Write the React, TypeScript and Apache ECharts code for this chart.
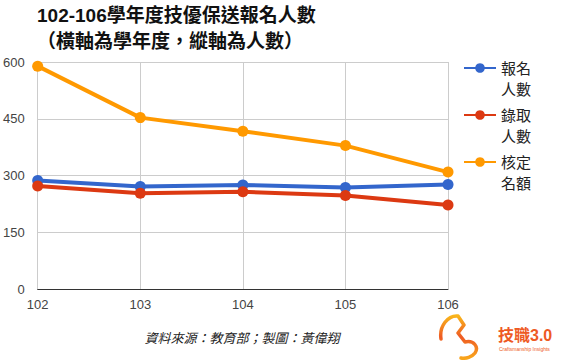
import React, { useEffect, useRef } from "react";
import * as echarts from "echarts";

const years = ["102", "103", "104", "105", "106"];
const applicants = [287, 271, 275, 268, 276];
const admitted = [272, 253, 257, 247, 222];
const quota = [589, 453, 417, 379, 309];
const seriesNames = ["報名人數", "錄取人數", "核定名額"];
const legendLabels = ["報名\n人數", "錄取\n人數", "核定\n名額"];
const colors = ["#3366cc", "#dc3912", "#ff9900"];
const titleLines = ["102-106學年度技優保送報名人數", "（橫軸為學年度，縱軸為人數）"];
const sourceText = "資料來源：教育部；製圖：黃偉翔";

const swirlD =
  "M 3 26 C 1 13, 10 2, 20 3 L 26 12 L 20 20 L 27 29 C 36 27, 41 34, 37 40 C 34 44, 28 46, 23 45";

let registered = false;
function ensureShape() {
  if (registered) return;
  echarts.graphic.registerShape("logo", echarts.graphic.extendPath(swirlD, {}) as any);
  registered = true;
}

export default function App() {
  const ref = useRef<HTMLDivElement>(null);
  useEffect(() => {
    if (!ref.current) return;
    ensureShape();
    const chart = echarts.init(ref.current, undefined, { renderer: "svg" });
    const data = [applicants, admitted, quota];
    const legendTops = [36.5, 83.5, 130.5];
    chart.setOption({
      animation: false,
      backgroundColor: "#fff",
      textStyle: { fontFamily: "Arial, 'Liberation Sans', 'Noto Sans CJK TC', sans-serif" },
      grid: { left: 37, right: 115, top: 62, bottom: 71 },
      xAxis: {
        type: "category",
        data: years,
        boundaryGap: false,
        axisLine: { show: true, lineStyle: { color: "#333", width: 1 } },
        axisTick: { show: false },
        axisLabel: { color: "#444", fontSize: 13, margin: 9 },
        splitLine: { show: true, lineStyle: { color: "#cccccc", width: 1 } },
      },
      yAxis: {
        type: "value",
        min: 0,
        max: 600,
        interval: 150,
        axisLine: { show: false },
        axisTick: { show: false },
        axisLabel: { color: "#444", fontSize: 13, margin: 13 },
        splitLine: { show: true, lineStyle: { color: "#cccccc", width: 1 } },
      },
      legend: seriesNames.map((n, i) => ({
        data: [n],
        orient: "vertical",
        left: 463,
        top: legendTops[i],
        padding: 0,
        itemWidth: 32,
        itemHeight: 12,
        selectedMode: false,
        formatter: () => "\n" + legendLabels[i],
        textStyle: { fontSize: 15, lineHeight: 21, color: "#222" },
      })),
      series: seriesNames.map((n, i) => ({
        name: n,
        type: "line",
        data: data[i],
        symbol: "circle",
        symbolSize: 11,
        color: colors[i],
        lineStyle: { width: 4, color: colors[i] },
        itemStyle: { color: colors[i] },
      })),
      graphic: [
        {
          type: "text",
          left: 37,
          top: 2,
          style: {
            text: titleLines.join("\n"),
            font: "bold 19px Arial, 'Liberation Sans', 'Noto Sans CJK TC', sans-serif",
            lineHeight: 26,
            fill: "#111",
          },
        },
        {
          type: "text",
          x: 242,
          y: 338,
          style: {
            text: sourceText,
            font: "italic 13px Arial, 'Noto Sans CJK TC', sans-serif",
            fill: "#222",
            align: "center",
            verticalAlign: "middle",
          },
        },
        {
          type: "logo",
          x: 438,
          y: 313,
          style: {
            fill: null,
            stroke: new echarts.graphic.LinearGradient(0, 0, 0, 1, [
              { offset: 0, color: "#f9b51b" },
              { offset: 0.5, color: "#ee5a24" },
              { offset: 1, color: "#f9a51b" },
            ]),
            lineWidth: 3.5,
            lineCap: "round",
            lineJoin: "round",
          },
        },
        {
          type: "text",
          x: 498,
          y: 335,
          style: {
            text: "技職3.0",
            font: "bold 16px Arial, 'Noto Sans CJK TC', sans-serif",
            fill: "#ee5a24",
            verticalAlign: "middle",
          },
        },
        {
          type: "text",
          x: 499,
          y: 349,
          style: {
            text: "Craftsmanship Insights",
            font: "5px Arial, sans-serif",
            fill: "#ee5a24",
            verticalAlign: "middle",
          },
        },
      ],
    });
    return () => chart.dispose();
  }, []);
  return (
    <div
      ref={ref}
      style={{ position: "absolute", left: 0, top: 0, width: 563, height: 360 }}
    />
  );
}
